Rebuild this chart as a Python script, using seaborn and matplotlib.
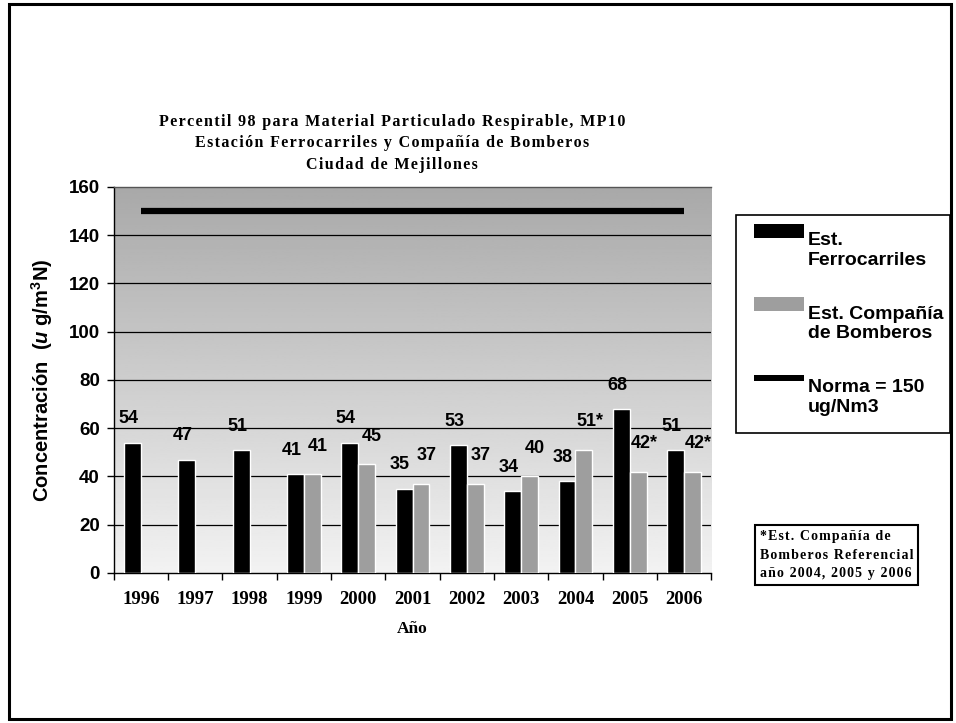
import numpy as np
import pandas as pd
import matplotlib
matplotlib.use('Agg')
import matplotlib.pyplot as plt
import seaborn as sns
from matplotlib.patches import Patch, Rectangle
from matplotlib.legend_handler import HandlerPatch

# Data
years = ['1996', '1997', '1998', '1999', '2000', '2001', '2002', '2003', '2004', '2005', '2006']
ferrocarriles = [54, 47, 51, 41, 54, 35, 53, 34, 38, 68, 51]
bomberos = [np.nan, np.nan, np.nan, 41, 45, 37, 37, 40, 51, 42, 42]
referencial_years = ['2004', '2005', '2006']
norma = 150
yticks = [0, 20, 40, 60, 80, 100, 120, 140, 160]

series_names = ['Est. Ferrocarriles', 'Est. Compañía de Bomberos']

df = pd.DataFrame({
    'year': years * 2,
    'value': ferrocarriles + bomberos,
    'station': [series_names[0]] * len(years) + [series_names[1]] * len(years),
}).dropna()

sns.set_theme(style='white')
plt.rcParams['font.family'] = ['Liberation Sans', 'DejaVu Sans']
plt.rcParams['text.color'] = 'black'
plt.rcParams['axes.labelcolor'] = 'black'
plt.rcParams['xtick.color'] = 'black'
plt.rcParams['ytick.color'] = 'black'
plt.rcParams['mathtext.fontset'] = 'custom'
plt.rcParams['mathtext.rm'] = 'Liberation Sans:bold'
plt.rcParams['mathtext.it'] = 'Liberation Sans:italic:bold'
plt.rcParams['mathtext.bf'] = 'Liberation Sans:bold'

serif = ['Liberation Serif', 'DejaVu Serif']


def spaced(s, sep='\u200a'):
    # the serif texts of the original are letter-spaced
    return '\n'.join(sep.join(line) for line in s.split('\n'))


fig = plt.figure(figsize=(9.56, 7.23), dpi=100)
fig.patch.set_facecolor('white')
ax = fig.add_axes([0.119, 0.2075, 0.625, 0.534])

bar_gray = '#9e9e9e'
sns.barplot(data=df, x='year', y='value', hue='station', order=years,
            hue_order=series_names, palette=['#000000', bar_gray],
            width=0.62, saturation=1, legend=False, ax=ax, zorder=3)

# gray gradient background of the plot area
grad = np.linspace(0.66, 0.95, 256).reshape(-1, 1)
ax.imshow(grad, cmap='gray', vmin=0, vmax=1, aspect='auto',
          extent=(-0.5, len(years) - 0.5, 0, 160), origin='upper', zorder=0)

ax.set_xlim(-0.5, len(years) - 0.5)
ax.set_ylim(0, 160)
ax.set_yticks(yticks)
for y in yticks[1:-1]:
    ax.axhline(y, color='black', lw=0.9, zorder=1)

# Norma line
ax.plot([0, len(years) - 1], [norma, norma], color='black', lw=4.5,
        solid_capstyle='butt', zorder=4)

# value labels
ferro_labels = [str(v) for v in ferrocarriles]
bomb_labels = [f'{int(v)}*' if y in referencial_years else f'{int(v)}'
               for y, v in zip(years, bomberos) if not np.isnan(v)]
ferro_txt = ax.bar_label(ax.containers[0], labels=ferro_labels, padding=11,
                         fontsize=13, fontweight='bold', color='black', zorder=5)
bomb_txt = ax.bar_label(ax.containers[1], labels=bomb_labels, padding=14,
                        fontsize=13, fontweight='bold', color='black', zorder=5)
for t in ferro_txt:
    t.xyann = (-3, 11)
for t in bomb_txt:
    t.xyann = (4, 14)

# spines and ticks
for side in ['left', 'bottom', 'top']:
    ax.spines[side].set_visible(True)
    ax.spines[side].set_color('black')
    ax.spines[side].set_linewidth(1.0)
ax.spines['right'].set_visible(False)
ax.spines['top'].set_color('#555555')

ax.tick_params(axis='y', which='major', direction='out', length=5, width=1,
               left=True, pad=5, labelsize=13.5)
for t in ax.get_yticklabels():
    t.set_fontweight('bold')
ax.tick_params(axis='x', which='major', length=0, pad=13)
ax.set_xticks(np.arange(-0.5, len(years)), minor=True)
ax.tick_params(axis='x', which='minor', direction='out', length=5, width=1,
               bottom=True)
ax.set_xticklabels(years, fontfamily=serif, fontweight='bold', fontsize=13.5)

ax.set_xlabel('Año', fontfamily=serif, fontweight='bold', fontsize=12.5, labelpad=9)
ax.set_ylabel(r'Concentración  ($\it{u}$ g/m$^3$N)', fontweight='bold',
              fontsize=14.5, labelpad=10)

# title
fig.text(0.41, 0.802,
         spaced('Percentil 98 para Material Particulado Respirable, MP10\n'
                'Estación Ferrocarriles y Compañía de Bomberos\n'
                'Ciudad de Mejillones'),
         ha='center', va='center', fontfamily=serif, fontweight='bold',
         fontsize=11.5, linespacing=1.45)


# legend: handle drawn next to the first line of each two-line label
def top_patch(height_frac):
    def make(legend, orig_handle, xdescent, ydescent, width, height, fontsize):
        h = fontsize * height_frac
        y0 = -ydescent + fontsize * 0.98 + (fontsize * 0.75 - h) / 2
        return Rectangle((-xdescent, y0), width, h)
    return make


h_ferro = Patch(facecolor='#000000', edgecolor='none')
h_bomb = Patch(facecolor=bar_gray, edgecolor='none')
h_norma = Patch(facecolor='#000000', edgecolor='none')
labels = ['Est.\nFerrocarriles', 'Est. Compañía\nde Bomberos', 'Norma = 150\nug/Nm3']
leg = fig.legend([h_ferro, h_bomb, h_norma], labels, loc='upper left',
                 bbox_to_anchor=(0.770, 0.39, 0.224, 0.313), mode='expand',
                 handler_map={h_ferro: HandlerPatch(patch_func=top_patch(0.72)),
                              h_bomb: HandlerPatch(patch_func=top_patch(0.72)),
                              h_norma: HandlerPatch(patch_func=top_patch(0.3))},
                 frameon=True, fancybox=False, edgecolor='black', framealpha=1,
                 prop={'weight': 'bold', 'size': 14}, handlelength=2.6,
                 handletextpad=0.2, labelspacing=1.9, borderpad=0.9,
                 borderaxespad=0)
leg.get_frame().set_linewidth(1.2)

# note box
fig.text(0.795, 0.232, spaced('*Est. Compañía de\nBomberos Referencial\naño 2004, 2005 y 2006'),
         ha='left', va='center', fontfamily=serif, fontweight='bold', fontsize=10,
         linespacing=1.55,
         bbox=dict(boxstyle='square,pad=0.35', facecolor='white',
                   edgecolor='black', linewidth=1.5))

# outer frame
fig.patches.append(Rectangle((0.009, 0.006), 0.986, 0.988, transform=fig.transFigure,
                             fill=False, edgecolor='black', linewidth=2.2))

fig.savefig('out.png', dpi=100)
